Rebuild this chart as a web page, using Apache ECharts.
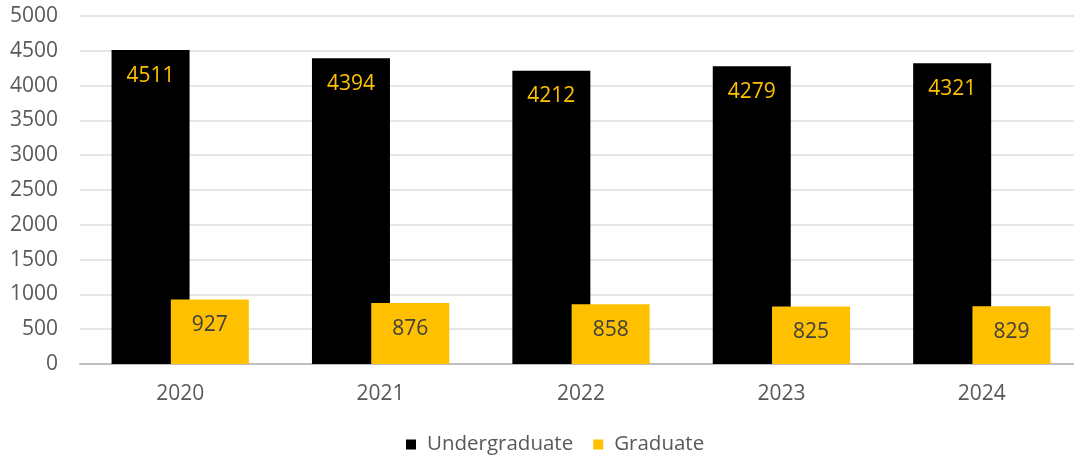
<!DOCTYPE html>
<html><head><meta charset="utf-8">
<script src="https://cdn.jsdelivr.net/npm/echarts@6/dist/echarts.min.js"></script>
<style>html,body{margin:0;padding:0;background:#fff;overflow:hidden}#c{width:1090px;height:457px}</style>
</head><body><div id="c"></div>
<script>
const categories = ['2020','2021','2022','2023','2024'];
const undergraduate = [4511, 4394, 4212, 4279, 4321];
const graduate = [927, 876, 858, 825, 829];
const yTicks = [0, 500, 1000, 1500, 2000, 2500, 3000, 3500, 4000, 4500, 5000];

const FONT = '"Open Sans", sans-serif';
const chart = echarts.init(document.getElementById('c'));
chart.setOption({
  animation: false,
  textStyle: { fontFamily: FONT },
  grid: { left: 80, top: 16, width: 1002, bottom: 93, containLabel: false },
  legend: {
    bottom: -3, left: 401,
    itemWidth: 10, itemHeight: 10, itemGap: 20,
    icon: 'rect',
    textStyle: { color: '#595959', fontSize: 20.5, fontFamily: FONT, padding: [0, 0, 0, 6] },
    data: ['Undergraduate', 'Graduate']
  },
  xAxis: {
    type: 'category', data: categories,
    axisLine: { lineStyle: { color: '#bfbfbf', width: 2 } },
    axisTick: { show: false },
    axisLabel: { color: '#595959', fontSize: 21, margin: 20, fontFamily: FONT }
  },
  yAxis: {
    type: 'value', min: yTicks[0], max: yTicks[yTicks.length-1], interval: 500,
    axisLine: { show: false }, axisTick: { show: false },
    splitLine: { lineStyle: { color: '#e6e6e6', width: 2 } },
    axisLabel: { color: '#595959', fontSize: 21, margin: 22, fontFamily: FONT, formatter: v => String(v) }
  },
  series: [
    {
      name: 'Undergraduate', type: 'bar', data: undergraduate,
      barWidth: 78, barGap: '-24%',
      itemStyle: { color: '#000000' },
      label: { show: true, position: 'insideTop', distance: 15, color: '#ffc000', fontSize: 21, fontFamily: FONT }
    },
    {
      name: 'Graduate', type: 'bar', data: graduate,
      barWidth: 78,
      itemStyle: { color: '#ffc000' },
      label: { show: true, position: 'insideTop', distance: 15, color: '#404040', fontSize: 21, fontFamily: FONT }
    }
  ]
});
</script></body></html>
